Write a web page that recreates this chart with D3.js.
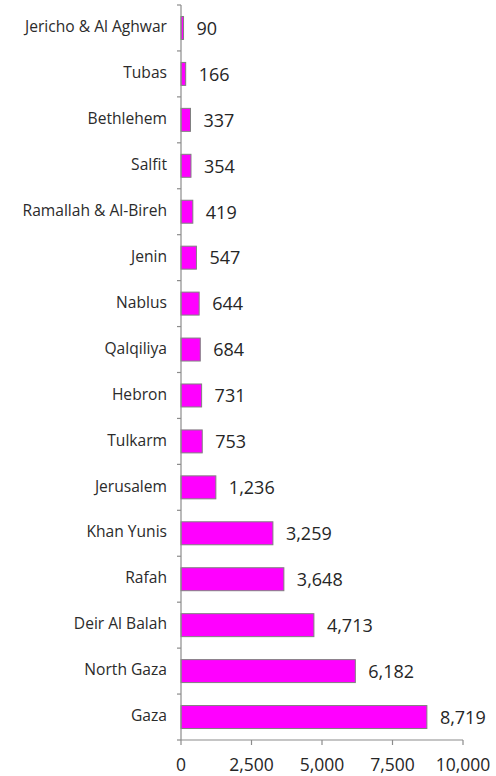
<!DOCTYPE html>
<html><head><meta charset="utf-8">
<script src="https://cdn.jsdelivr.net/npm/d3@7"></script>
<style>body{margin:0;background:#fff}</style>
</head><body>
<svg id="c" width="496" height="776"></svg>
<script>
const categories = ["Jericho & Al Aghwar","Tubas","Bethlehem","Salfit","Ramallah & Al-Bireh","Jenin","Nablus","Qalqiliya","Hebron","Tulkarm","Jerusalem","Khan Yunis","Rafah","Deir Al Balah","North Gaza","Gaza"];
const values = [90,166,337,354,419,547,644,684,731,753,1236,3259,3648,4713,6182,8719];
const xTicks = [0,2500,5000,7500,10000];

const svg = d3.select("#c");
const x = d3.scaleLinear().domain([0,10000]).range([181,463]);
const y = d3.scaleBand().domain(categories).range([5,740]).paddingInner(0.5).paddingOuter(0.25);
const font = "'Open Sans', sans-serif";
const axisCol = "#8c8c8c";
const txtCol = "#262626";

// bars
svg.selectAll("rect.bar").data(values).join("rect")
  .attr("x", x(0)).attr("y",(d,i)=>y(categories[i]))
  .attr("width", d=>x(d)-x(0)).attr("height", y.bandwidth())
  .attr("fill","#ff00ff").attr("stroke","#808080").attr("stroke-width",1);

// value labels
svg.selectAll("text.val").data(values).join("text")
  .attr("x", d=>x(d)+13).attr("y",(d,i)=>y(categories[i])+y.bandwidth()/2+2)
  .attr("dominant-baseline","middle")
  .attr("font-family",font).attr("font-size",18).attr("fill",txtCol)
  .text(d=>d3.format(",")(d));

// y axis
const yAxis = svg.append("g");
yAxis.append("line").attr("x1",x(0)).attr("x2",x(0)).attr("y1",5).attr("y2",740).attr("stroke",axisCol).attr("stroke-width",1.2);
d3.range(categories.length+1).forEach(i=>{
  const yy = 5 + i*(735/categories.length);
  yAxis.append("line").attr("x1",x(0)-4).attr("x2",x(0)).attr("y1",yy).attr("y2",yy).attr("stroke",axisCol).attr("stroke-width",1.2);
});
svg.selectAll("text.cat").data(categories).join("text")
  .attr("x", x(0)-14).attr("y", d=>y(d)+y.bandwidth()/2)
  .attr("text-anchor","end").attr("dominant-baseline","middle")
  .attr("font-family",font).attr("font-size",15.6).attr("font-weight",500).attr("fill","#2b2b2b")
  .text(d=>d);

// x axis
const xa = svg.append("g").attr("transform","translate(0,740)");
xa.append("line").attr("x1",x(0)).attr("x2",x(10000)).attr("stroke",axisCol).attr("stroke-width",1.2);
xTicks.forEach(t=>{
  xa.append("line").attr("x1",x(t)).attr("x2",x(t)).attr("y1",0).attr("y2",5).attr("stroke",axisCol).attr("stroke-width",1.2);
  xa.append("text").attr("x",x(t)).attr("y",26).attr("text-anchor","middle").attr("dominant-baseline","middle")
    .attr("font-family",font).attr("font-size",17.5).attr("fill",txtCol).text(d3.format(",")(t));
});
</script>
</body></html>
